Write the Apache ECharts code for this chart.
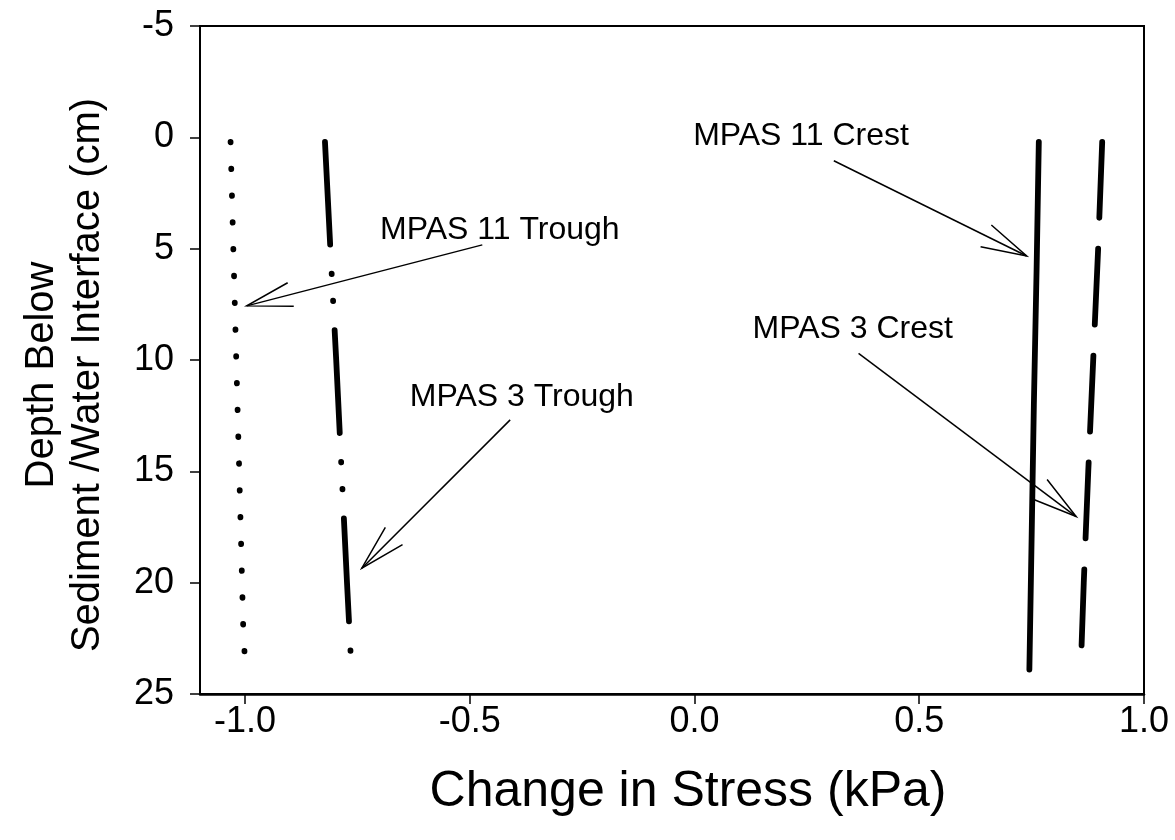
<!DOCTYPE html>
<html>
<head>
<meta charset="utf-8">
<script src="https://cdn.jsdelivr.net/npm/echarts@6.0.0/dist/echarts.min.js"></script>
<style>
  html, body { margin: 0; background: #fff; }
  #chart { width: 1175px; height: 840px; }
</style>
</head>
<body>
<div id="chart"></div>
<script>
// depth below interface (cm) and change in stress (kPa) for each profile
const depth11Trough = [0.2, 4.9, 11.0, 17.1, 21.9, 23.1];
const stress11Trough = [-1.032, -1.026, -1.018, -1.010, -1.004, -1.001];

const depth3Trough = [0.2, 5, 10, 15, 20, 23.15];
const stress3Trough = [-0.822, -0.810, -0.797, -0.785, -0.773, -0.765];

const depth11Crest = [0.2, 6, 12, 18, 23.9];
const stress11Crest = [0.766, 0.761, 0.755, 0.750, 0.745];

const depth3Crest = [0.2, 5, 10, 15, 20, 22.9];
const stress3Crest = [0.907, 0.898, 0.887, 0.876, 0.866, 0.861];

const xTicks = [-1.0, -0.5, 0.0, 0.5, 1.0];

// annotations: label position, arrow tail, arrow head (data units)
const noteText = ['MPAS 11 Trough', 'MPAS 3 Trough', 'MPAS 11 Crest', 'MPAS 3 Crest'];
const noteX = [-0.433, -0.384, 0.237, 0.352];
const noteDepth = [4.15, 11.67, -0.05, 8.62];
const tailX = [-0.472, -0.410, 0.310, 0.365];
const tailDepth = [4.83, 12.69, 1.05, 9.70];
const headX = [-0.996, -0.740, 0.739, 0.849];
const headDepth = [7.57, 19.35, 5.33, 17.03];

const FONT = '"Liberation Sans", Arial, Helvetica, sans-serif';

const pairs = (xs, ds) => ds.map((d, i) => [xs[i], d]);

function profile(name, xs, ds, dash) {
    return {
        name: name,
        type: 'line',
        data: pairs(xs, ds),
        symbol: 'none',
        silent: true,
        lineStyle: {
            color: '#000',
            width: 5.8,
            type: dash,
            cap: 'round',
            join: 'round'
        }
    };
}

function renderNote(params, api) {
    const i = params.dataIndex;
    const t = api.coord([api.value(0), api.value(1)]);
    const a = api.coord([api.value(2), api.value(3)]);
    const b = api.coord([api.value(4), api.value(5)]);
    const ang = Math.atan2(a[1] - b[1], a[0] - b[0]);
    const len = 47;
    const spread = 15 * Math.PI / 180;
    const barb = s => [b[0] + len * Math.cos(ang + s), b[1] + len * Math.sin(ang + s)];
    const stroke = { stroke: '#000', lineWidth: 1.5, fill: null };
    return {
        type: 'group',
        children: [
            { type: 'line', shape: { x1: a[0], y1: a[1], x2: b[0], y2: b[1] }, style: stroke },
            { type: 'polyline', shape: { points: [barb(spread), b, barb(-spread)] }, style: stroke },
            {
                type: 'text',
                x: t[0],
                y: t[1],
                style: {
                    text: noteText[i],
                    fill: '#000',
                    fontSize: 32,
                    fontFamily: FONT,
                    align: 'center',
                    verticalAlign: 'middle'
                }
            }
        ]
    };
}

const chart = echarts.init(document.getElementById('chart'));
chart.setOption({
    animation: false,
    backgroundColor: '#fff',
    textStyle: { fontFamily: FONT, color: '#000' },
    grid: {
        left: 200,
        right: 31,
        top: 26,
        bottom: 146,
        show: true,
        borderColor: '#000',
        borderWidth: 2
    },
    xAxis: {
        type: 'value',
        min: -1.1,
        max: 1.0,
        name: 'Change in Stress (kPa)',
        nameLocation: 'middle',
        nameGap: 73,
        nameTextStyle: { fontSize: 50, lineHeight: 50, color: '#000', fontFamily: FONT, padding: [0, 0, 0, 32] },
        axisLine: { show: true, onZero: false, lineStyle: { color: '#000', width: 2.5 } },
        axisTick: { show: true, length: 10, customValues: xTicks, lineStyle: { color: '#000', width: 1.5 } },
        axisLabel: {
            customValues: xTicks,
            fontSize: 36,
            color: '#000',
            margin: 10,
            formatter: v => v.toFixed(1)
        },
        splitLine: { show: false }
    },
    yAxis: {
        type: 'value',
        inverse: true,
        min: -5,
        max: 25,
        interval: 5,
        name: 'Depth Below\nSediment /Water Interface (cm)',
        nameLocation: 'middle',
        nameRotate: 90,
        nameGap: 89,
        nameTextStyle: { fontSize: 40, lineHeight: 46, color: '#000', fontFamily: FONT, padding: [0, 30, 0, 0] },
        axisLine: { show: true, onZero: false, lineStyle: { color: '#000', width: 2 } },
        axisTick: { show: true, length: 10, lineStyle: { color: '#000', width: 1.5 } },
        axisLabel: { fontSize: 36, color: '#000', margin: 26 },
        splitLine: { show: false }
    },
    series: [
        profile('MPAS 11 Trough', stress11Trough, depth11Trough, [0.5, 26.3]),
        profile('MPAS 3 Trough', stress3Trough, depth3Trough, [103, 29, 0.5, 26.5, 0.5, 29.1]),
        profile('MPAS 11 Crest', stress11Crest, depth11Crest, 'solid'),
        profile('MPAS 3 Crest', stress3Crest, depth3Crest, [76, 31]),
        {
            type: 'custom',
            silent: true,
            clip: false,
            renderItem: renderNote,
            encode: { x: [0, 2, 4], y: [1, 3, 5] },
            data: noteText.map((_, i) => [noteX[i], noteDepth[i], tailX[i], tailDepth[i], headX[i], headDepth[i]])
        }
    ]
});
</script>
</body>
</html>
